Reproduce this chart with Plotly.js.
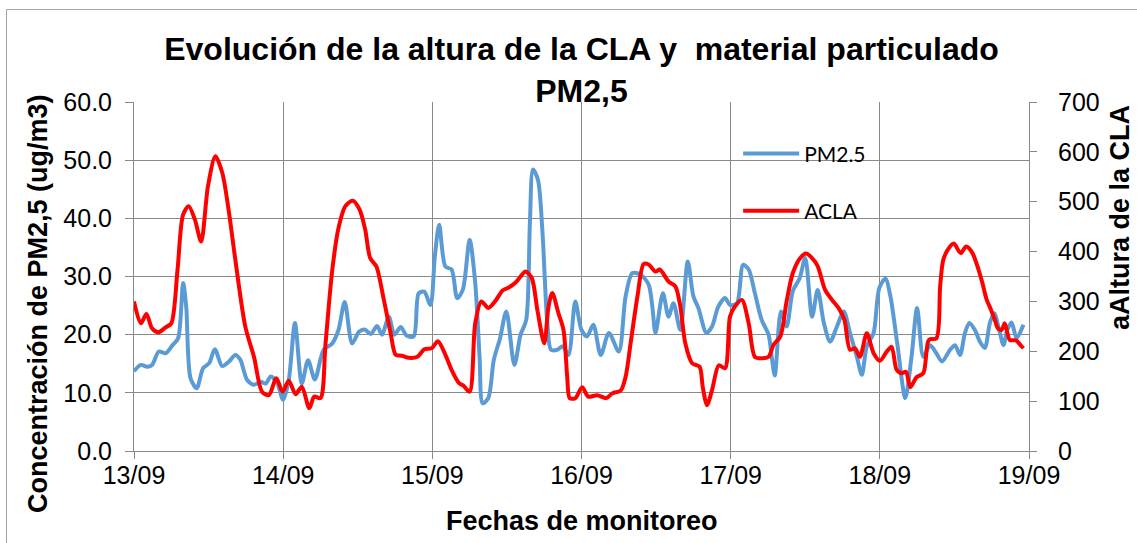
<!DOCTYPE html>
<html>
<head>
<meta charset="utf-8">
<script src="https://cdn.plot.ly/plotly-3.0.1.min.js"></script>
<style>
html,body{margin:0;padding:0;background:#fff;}
#chart{width:1137px;height:543px;}
</style>
</head>
<body>
<div id="chart"></div>
<script>
// Hours since 13/09 00:00
const tickHours = [0, 24, 48, 72, 96, 120, 144];
const tickLabels = ["13/09", "14/09", "15/09", "16/09", "17/09", "18/09", "19/09"];

const pmHours = [0,1.1,2.1,2.9,4,5.1,6.2,7.1,7.9,8.4,9.1,10.1,11.1,12.1,13,14.2,15.3,16.3,17.1,18.2,19.3,20.4,21.2,22,23,24,24.9,25.9,27,28,29.1,30.5,31.9,32.9,33.9,35.1,36.2,37.1,38.1,39.1,39.9,41,41.9,42.9,43.9,45,45.8,46.7,47.7,48.4,49.1,50.1,51.1,52,52.9,54,54.9,55.6,56.1,57,57.9,58.9,59.9,61.2,62.2,63.1,63.7,64.2,65,65.7,66.5,67.1,68.1,69,69.9,71,72,72.9,73.9,75.1,76.4,78,79.1,80.2,81.5,82.8,83.4,83.9,85.1,86,86.8,87.9,89.1,90,90.8,92.1,93,94,95.1,95.9,97,98,98.9,99.9,101,102.1,102.6,103.1,104.1,105,106,107.1,108,109.1,110,111,112,113.1,114.2,115.2,116.3,117.1,117.9,119,119.9,120.9,121.7,122.8,124.1,125.1,126,127,128.1,129.1,130,131.3,132.1,132.9,133.7,134.4,135.3,136.1,136.9,137.7,138.4,139.2,139.9,140.5,141.2,142,143.1];
const pm25 = [13.7,14.8,14.5,14.8,17.1,16.8,18.2,19.4,28.9,24.8,12.5,10.8,14.2,15.1,17.5,14.6,15.4,16.5,15.7,12.2,11.4,11.9,11.6,12.8,11.8,8.8,12.2,22.0,11.6,15.6,12.3,17.4,18.5,20.8,25.6,18.5,20.5,20.9,20.1,21.5,20.0,23.1,20.0,21.3,19.8,19.7,27.1,27.4,25.1,33.4,38.9,31.7,31.2,26.3,27.7,36.3,28.9,16.2,8.2,9.1,15.7,19.4,24.0,14.8,20.0,22.5,39.2,48.4,46.6,38.0,22.0,17.4,17.4,18.0,16.5,25.7,20.8,19.7,21.7,16.5,20.3,17.1,26.6,30.6,30.3,28.6,24.8,20.3,27.1,23.1,25.4,20.8,32.6,26.6,24.6,20.3,21.4,24.8,26.3,25.1,25.4,32.0,31.2,27.1,22.5,20.0,16.2,13.0,24.0,21.4,27.5,29.7,33.2,23.1,27.7,22.0,18.8,21.4,24.0,20.3,16.2,13.1,18.0,20.3,28.0,29.6,26.6,18.5,9.1,16.2,24.6,16.2,18.2,16.8,15.4,17.4,18.2,16.5,20.3,22.0,20.8,18.8,17.7,22.0,23.7,20.8,18.2,20.8,22.1,19.4,21.7];

const aclaHours = [0,1.1,2,2.9,3.9,5.1,6,7,7.9,8.8,9.8,10.8,11.9,13.1,14.2,15.3,16.3,17.9,19.3,20.6,21.7,22.9,23.9,24.9,26,27,28.2,29,30,30.8,31.9,32.9,34,35.2,36.3,37.2,38,39,40.2,41.3,42.1,43.1,44.2,45.6,46.7,47.9,48.9,50,51.2,52.3,53,54,54.9,55.9,57,58.2,59.3,60.3,61.4,62.2,63,64,64.9,66,66.7,67.3,68.3,69.1,69.7,70.1,71,72.1,73.1,74.5,76,77,78.3,79.1,79.9,81,82,82.8,83.9,84.6,86,87.1,87.9,88.7,89.8,91,91.5,92.2,93,94.1,95.1,95.9,96.7,97.8,98.9,99.9,101,102.1,102.9,104,105,106,107.2,108.1,109.1,110,111.2,112.3,113.4,114.3,115.2,116,116.8,117.9,119,120,121.1,121.9,122.7,123.5,124.2,124.9,125.9,127,127.9,129.1,129.7,130.2,131,131.9,133,133.9,134.9,135.9,136.5,137.2,137.8,138.5,139,139.6,140.1,140.9,141.9,142.6,143.1];
const acla = [300,256,275,246,238,248,256,363,474,491,464,420,531,591,558,477,384,250,189,119,112,146,119,141,114,129,86,109,106,213,363,447,491,502,484,444,387,370,303,236,193,191,187,189,204,206,220,196,160,136,131,119,256,300,287,302,322,328,338,350,360,347,283,216,290,317,276,243,149,106,106,128,109,112,106,116,121,149,216,310,375,374,360,364,340,330,290,216,176,169,129,92,122,172,166,270,290,303,256,189,186,189,213,230,300,357,387,396,387,371,323,303,286,263,203,206,189,236,196,181,199,209,163,156,159,128,148,156,223,226,330,383,405,416,397,410,397,363,337,303,286,263,246,243,256,223,222,213,206];

const gridCol = '#898989';
const traces = [
  {
    x: pmHours, y: pm25, name: 'PM2.5', type: 'scatter', mode: 'lines',
    line: {color: '#5B9BD5', width: 4, shape: 'spline', smoothing: 0.8},
    legendgroup: 'a', yaxis: 'y'
  },
  {
    x: aclaHours, y: acla, name: 'ACLA', type: 'scatter', mode: 'lines',
    line: {color: '#FF0000', width: 4, shape: 'spline', smoothing: 0.8},
    legendgroup: 'b', yaxis: 'y2'
  }
];

const boldFont = {family: 'Liberation Sans, Arial, sans-serif', size: 27, color: '#000', weight: 'bold'};

const layout = {
  width: 1137, height: 543,
  margin: {l: 134, r: 108, t: 102, b: 92},
  paper_bgcolor: '#ffffff', plot_bgcolor: '#ffffff',
  font: {family: 'Liberation Sans, Arial, sans-serif', color: '#000'},
  title: {
    text: 'Evolución de la altura de la CLA y \u00a0material particulado<br>PM2,5',
    font: {family: 'Liberation Sans, Arial, sans-serif', size: 32, color: '#000', weight: 'bold'},
    x: 0.5, xref: 'paper', xanchor: 'center',
    y: 1 - 60/543, yref: 'container', yanchor: 'top'
  },
  xaxis: {
    range: [0, 144], tickmode: 'array', tickvals: tickHours, ticktext: tickLabels,
    showgrid: true, gridcolor: gridCol, gridwidth: 1,
    showline: true, linecolor: gridCol, linewidth: 1,
    ticks: 'outside', ticklen: 7, tickcolor: gridCol,
    tickfont: {size: 25}, zeroline: false, ticklabelstandoff: -5
  },
  yaxis: {
    range: [0, 60], dtick: 10, tick0: 0, tickformat: '.1f',
    showgrid: true, gridcolor: gridCol, gridwidth: 1,
    showline: true, linecolor: gridCol, linewidth: 1,
    ticks: 'outside', ticklen: 8, tickcolor: gridCol,
    tickfont: {size: 25}, zeroline: false, ticklabelstandoff: 8
  },
  yaxis2: {
    range: [0, 700], dtick: 100, tick0: 0, overlaying: 'y', side: 'right',
    showgrid: false, showline: true, linecolor: gridCol, linewidth: 1,
    ticks: 'outside', ticklen: 7, tickcolor: gridCol,
    tickfont: {size: 25}, zeroline: false, ticklabelstandoff: 16
  },
  annotations: [
    {text: 'Fechas de monitoreo', font: boldFont, showarrow: false,
     xref: 'paper', yref: 'paper', x: (582 - 134) / 895, y: (451 - 521) / 349,
     xanchor: 'center', yanchor: 'middle'},
    {text: 'Concentración de PM2,5 (ug/m3)', font: boldFont, showarrow: false, textangle: -90,
     xref: 'paper', yref: 'paper', x: (38 - 134) / 895, y: (451 - 304) / 349,
     xanchor: 'center', yanchor: 'middle'},
    {text: 'aAltura de la CLA', font: boldFont, showarrow: false, textangle: -90,
     xref: 'paper', yref: 'paper', x: (1120 - 134) / 895, y: (451 - 218) / 349,
     xanchor: 'center', yanchor: 'middle'}
  ],
  showlegend: true,
  legend: {
    x: 0.675, y: 0.91, xanchor: 'left', yanchor: 'top',
    bgcolor: 'rgba(0,0,0,0)', borderwidth: 0,
    font: {family: 'Lato, sans-serif', size: 21, color: '#000'},
    traceorder: 'grouped', tracegroupgap: 27, itemwidth: 56
  },
  shapes: [{
    type: 'rect', xref: 'paper', yref: 'paper',
    x0: (6.5 - 134) / 895, x1: (1145 - 134) / 895,
    y0: (451 - 550) / 349, y1: (451 - 9.5) / 349,
    line: {color: '#a6a6a6', width: 1}, fillcolor: 'rgba(0,0,0,0)', layer: 'below'
  }]
};

Plotly.newPlot('chart', traces, layout, {displayModeBar: false, staticPlot: true});
</script>
</body>
</html>
